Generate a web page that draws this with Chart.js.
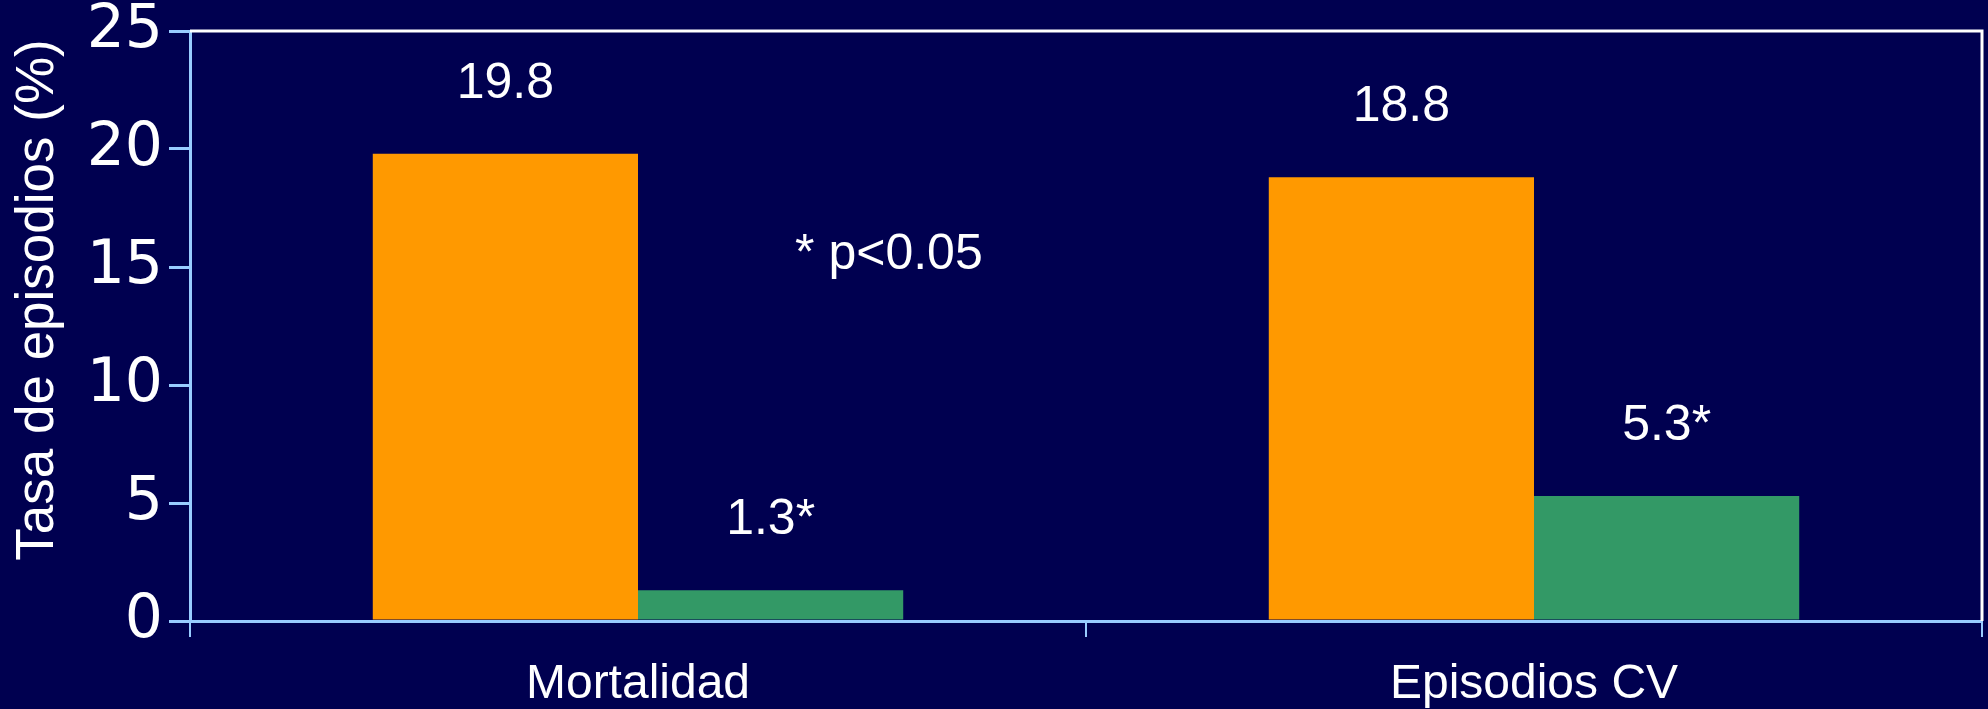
<!DOCTYPE html>
<html>
<head>
<meta charset="utf-8">
<script src="https://cdn.jsdelivr.net/npm/chart.js@4.4.0/dist/chart.umd.min.js"></script>
<style>
  body { margin: 0; background: #000050; }
  #wrap { width: 1988px; height: 709px; position: relative; }
</style>
</head>
<body>
<div id="wrap"><canvas id="tasaChart"></canvas></div>
<script>
const categories = ['Mortalidad', 'Episodios CV'];
const serieA = [19.8, 18.8];
const serieB = [1.3, 5.3];
const labelsA = ['19.8', '18.8'];
const labelsB = ['1.3*', '5.3*'];
const yTicks = [0, 5, 10, 15, 20, 25];
const yTitle = 'Tasa de episodios (%)';
const nota = '* p<0.05';

const axisBlue = '#99ccff';

// value labels above the bars, the p-value note and the y title
const valueLabels = {
  id: 'valueLabels',
  afterDatasetsDraw(chart) {
    const ctx = chart.ctx;
    const a = chart.chartArea;
    const texts = [labelsA, labelsB];
    ctx.save();
    ctx.fillStyle = '#ffffff';
    ctx.font = '50px "Liberation Sans"';
    ctx.textAlign = 'center';
    ctx.textBaseline = 'middle';
    chart.data.datasets.forEach((ds, di) => {
      chart.getDatasetMeta(di).data.forEach((bar, i) => {
        ctx.fillText(texts[di][i], bar.x, bar.y - 70);
      });
    });
    const xs = chart.scales.x, ys = chart.scales.y;
    ctx.fillText(nota, xs.getPixelForValue(0.28), ys.getPixelForValue(15.5));

    // rotated axis title, sitting a bit above the middle like the original
    ctx.font = '53px "Liberation Sans"';
    ctx.translate(38, (a.top + a.bottom) / 2 - 26);
    ctx.rotate(-Math.PI / 2);
    ctx.fillText(yTitle, 0, 0);
    ctx.restore();
  }
};

// white frame on top and right
const frame = {
  id: 'frame',
  afterDraw(chart) {
    const a = chart.chartArea, ctx = chart.ctx;
    ctx.save();
    ctx.strokeStyle = '#ffffff';
    ctx.lineWidth = 3;
    ctx.beginPath();
    ctx.moveTo(a.left, a.top);
    ctx.lineTo(a.right, a.top);
    ctx.lineTo(a.right, a.bottom);
    ctx.stroke();
    ctx.restore();
  }
};

const ctx = document.getElementById('tasaChart').getContext('2d');
new Chart(ctx, {
  type: 'bar',
  data: {
    labels: categories,
    datasets: [{
      label: 'Serie 1',
      data: serieA,
      backgroundColor: '#ff9900',
      categoryPercentage: 0.592,
      barPercentage: 1.0
    }, {
      label: 'Serie 2',
      data: serieB,
      backgroundColor: '#339966',
      categoryPercentage: 0.592,
      barPercentage: 1.0
    }]
  },
  options: {
    responsive: true,
    maintainAspectRatio: false,
    animation: false,
    layout: { padding: { top: 31, right: 6, left: 0, bottom: 0 } },
    plugins: {
      legend: { display: false },
      tooltip: { enabled: false }
    },
    scales: {
      x: {
        offset: true,
        grid: {
          display: true,
          drawOnChartArea: false,
          drawTicks: true,
          tickLength: 16,
          color: axisBlue,
          lineWidth: 2,
          offset: true
        },
        border: { color: axisBlue, width: 3 },
        ticks: {
          color: '#ffffff',
          font: { family: 'Liberation Sans', size: 48 },
          padding: 19,
          maxRotation: 0
        },
        afterFit: s => { s.height = 88; }
      },
      y: {
        min: 0,
        max: 25,
        afterBuildTicks: s => { s.ticks = yTicks.map(v => ({ value: v })); },
        grid: {
          drawOnChartArea: false,
          drawTicks: true,
          tickLength: 21,
          color: axisBlue,
          lineWidth: 3
        },
        border: { color: axisBlue, width: 3 },
        ticks: {
          color: '#ffffff',
          font: { family: 'DejaVu Sans', size: 60 },
          padding: 6
        },
        afterFit: s => {
          s.width = 190;
          // let the top tick label hang over the edge instead of pushing the plot down
          s.paddingTop = 0;
          s.paddingBottom = 0;
        }
      }
    }
  },
  plugins: [valueLabels, frame]
});
</script>
</body>
</html>
